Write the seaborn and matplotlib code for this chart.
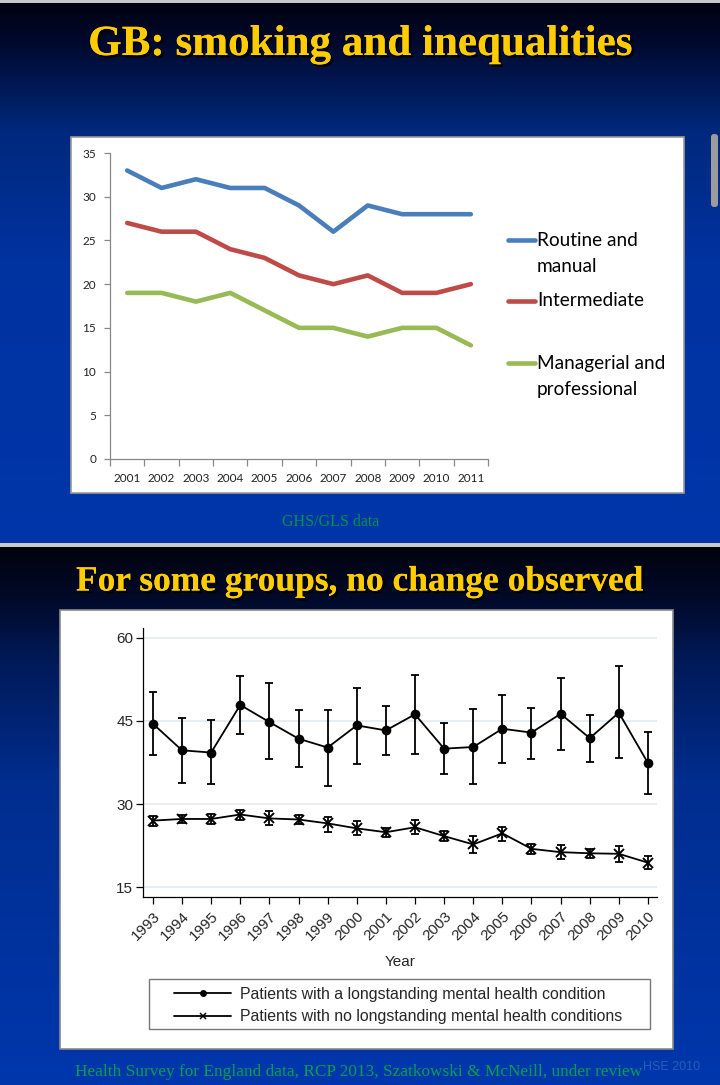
import numpy as np
import pandas as pd
import matplotlib
matplotlib.use("Agg")
import matplotlib.pyplot as plt
import seaborn as sns
from matplotlib.lines import Line2D
from matplotlib.patches import Rectangle, FancyBboxPatch
import matplotlib.patheffects as pe

# ---------------- data: top chart (GHS/GLS) ----------------
years_top = ["2001", "2002", "2003", "2004", "2005", "2006", "2007", "2008", "2009", "2010", "2011"]
routine = [33, 31, 32, 31, 31, 29, 26, 29, 28, 28, 28]
intermediate = [27, 26, 26, 24, 23, 21, 20, 21, 19, 19, 20]
managerial = [19, 19, 18, 19, 17, 15, 15, 14, 15, 15, 13]
groups_top = ["Routine and\nmanual", "Intermediate", "Managerial and\nprofessional"]
colors_top = ["#4A7EBB", "#BE4B48", "#98B954"]
yticks_top = [0, 5, 10, 15, 20, 25, 30, 35]

# ---------------- data: bottom chart (HSE) ----------------
years_bot = [1993, 1994, 1995, 1996, 1997, 1998, 1999, 2000, 2001, 2002,
             2003, 2004, 2005, 2006, 2007, 2008, 2009, 2010]
mh = [44.5, 39.7, 39.3, 47.9, 44.8, 41.8, 40.2, 44.2, 43.3, 46.2,
      40.0, 40.3, 43.6, 42.9, 46.3, 41.9, 46.5, 37.4]
mh_lo = [38.8, 33.8, 33.6, 42.6, 38.1, 36.6, 33.3, 37.3, 38.8, 39.1,
         35.4, 33.6, 37.5, 38.2, 39.8, 37.6, 38.4, 31.8]
mh_hi = [50.3, 45.6, 45.1, 53.2, 51.8, 47.0, 47.0, 51.0, 47.7, 53.3,
         44.6, 47.1, 49.7, 47.4, 52.8, 46.1, 54.9, 43.1]
nomh = [27.0, 27.3, 27.3, 28.1, 27.4, 27.2, 26.5, 25.6, 24.9, 25.8,
        24.2, 22.7, 24.7, 21.9, 21.3, 21.1, 21.0, 19.4]
nomh_lo = [26.0, 26.5, 26.4, 27.1, 26.2, 26.4, 25.0, 24.4, 24.1, 24.5,
           23.3, 21.2, 23.4, 21.0, 20.0, 20.2, 19.5, 18.2]
nomh_hi = [27.8, 28.1, 28.2, 29.0, 28.7, 28.1, 27.6, 27.0, 25.6, 27.1,
           25.2, 24.3, 25.9, 22.8, 22.6, 21.9, 22.5, 20.6]
label_mh = "Patients with a longstanding mental health condition"
label_nomh = "Patients with no longstanding mental health conditions"
yticks_bot = [15, 30, 45, 60]

sns.set_theme(style="ticks")
plt.rcParams["font.family"] = ["Liberation Sans", "DejaVu Sans"]

W, H = 720, 1085
fig = plt.figure(figsize=(W / 100, H / 100), dpi=100)

# ---------------- slide backgrounds ----------------
bg = fig.add_axes([0, 0, 1, 1], zorder=-10)
bg.axis("off")

stops = [(0, "#00020e"), (45, "#000a30"), (130, "#00287c"), (260, "#0032a0"), (544, "#0036aa"),
         (545, "#00020c"), (600, "#000a2a"), (660, "#001a58"), (780, "#002d8e"), (1085, "#0037ad")]
pos = np.array([s[0] for s in stops], float)
cols = np.array([matplotlib.colors.to_rgb(s[1]) for s in stops])
rows = np.arange(H)
grad = np.stack([np.interp(rows, pos, cols[:, c]) for c in range(3)], axis=-1)[:, None, :]
bg.imshow(grad, extent=(0, W, H, 0), aspect="auto", interpolation="bilinear")
bg.set_xlim(0, W)
bg.set_ylim(H, 0)

bg.add_patch(Rectangle((0, 0), W, 3, fc="#c9c9c9", ec="none"))
bg.add_patch(Rectangle((0, 543), W, 4, fc="#c9c9c9", ec="none"))
bg.add_patch(Rectangle((71, 137), 613, 356, fc="white", ec="#9a9a9a", lw=1.2))
bg.add_patch(Rectangle((60, 610), 613, 439, fc="white", ec="#8a8a8a", lw=1.2))
bg.add_patch(FancyBboxPatch((711, 134), 7, 73, boxstyle="round,pad=0,rounding_size=3",
                            fc="#9c9c9c", ec="none"))

shadow = [pe.withSimplePatchShadow(offset=(1.8, -1.8), shadow_rgbFace="black", alpha=0.85), pe.Normal()]
bg.text(360, 45, "GB: smoking and inequalities", ha="center", va="center", fontsize=31,
        fontweight="bold", color="#FFCC00", family=["Liberation Serif", "DejaVu Serif"],
        path_effects=shadow)
bg.text(360, 582, "For some groups, no change observed", ha="center", va="center", fontsize=25.5,
        fontweight="bold", color="#FFCC00", family=["Liberation Serif", "DejaVu Serif"],
        path_effects=shadow)

bg.text(331, 522, "GHS/GLS data", ha="center", va="center", fontsize=11.5,
        color="#00914a", family=["Liberation Serif", "DejaVu Serif"])
bg.text(359, 1072, "Health Survey for England data, RCP 2013, Szatkowski & McNeill, under review",
        ha="center", va="center", fontsize=12.4, color="#00a050",
        family=["Liberation Serif", "DejaVu Serif"])
bg.text(672, 1067, "HSE 2010", ha="center", va="center", fontsize=9, color="#2a5cb8")

# ---------------- top chart ----------------
df_top = pd.DataFrame({
    "year": years_top * 3,
    "pct": routine + intermediate + managerial,
    "group": [groups_top[0]] * 11 + [groups_top[1]] * 11 + [groups_top[2]] * 11,
})
ax1 = fig.add_axes([110 / W, 1 - 459 / H, 378 / W, 306 / H])
ax1.set_facecolor("none")
sns.lineplot(data=df_top, x="year", y="pct", hue="group", hue_order=groups_top,
             palette=colors_top, linewidth=3.3, ax=ax1, legend=False, sort=False,
             solid_capstyle="round", solid_joinstyle="round")
ax1.set_xlim(-0.5, len(years_top) - 0.5)
ax1.set_ylim(0, 35)
ax1.set_xlabel("")
ax1.set_ylabel("")
ax1.set_yticks(yticks_top)
ax1.set_yticklabels([str(v) for v in yticks_top], fontsize=8.5, color="#222222",
                    family=["Lato", "DejaVu Sans"])
ax1.set_xticks(range(len(years_top)))
ax1.set_xticklabels(years_top, fontsize=8.5, color="#222222", family=["Lato", "DejaVu Sans"])
ax1.set_xticks(np.arange(-0.5, len(years_top), 1.0), minor=True)
ax1.tick_params(axis="x", which="major", length=0, pad=10)
ax1.tick_params(axis="x", which="minor", length=5, width=0.9, color="#888888", direction="out")
ax1.tick_params(axis="y", length=4, width=0.9, color="#888888", pad=6)
for s in ["top", "right"]:
    ax1.spines[s].set_visible(False)
for s in ["left", "bottom"]:
    ax1.spines[s].set_color("#888888")
    ax1.spines[s].set_linewidth(0.9)

# legend (keys on first text line, as in the original)
leg_rows = [240, 301, 363]
for lab, col, yr in zip(groups_top, colors_top, leg_rows):
    bg.plot([508, 535], [yr, yr], color=col, lw=3.3, solid_capstyle="round")
    for k, line in enumerate(lab.split("\n")):
        bg.text(537, yr + 27 * k, line, ha="left", va="center", fontsize=13.7,
                color="black", family=["Lato", "DejaVu Sans"])

# ---------------- bottom chart ----------------
ax2 = fig.add_axes([143 / W, 1 - 897 / H, 514 / W, 269 / H])
ax2.set_facecolor("none")
for v in yticks_bot:
    ax2.axhline(v, color="#e3ebf1", lw=1.2, zorder=0)

df_mh = pd.DataFrame({"year": years_bot, "pct": mh})
df_no = pd.DataFrame({"year": years_bot, "pct": nomh})
sns.lineplot(data=df_mh, x="year", y="pct", color="black", linewidth=1.3, marker="o",
             markersize=7, markeredgewidth=0, ax=ax2)
sns.lineplot(data=df_no, x="year", y="pct", color="black", linewidth=1.3, marker="x",
             markersize=7, markeredgewidth=1.4, markeredgecolor="black", ax=ax2)
ax2.errorbar(years_bot, mh, yerr=[np.subtract(mh, mh_lo), np.subtract(mh_hi, mh)],
             fmt="none", ecolor="black", elinewidth=1.3, capsize=3, capthick=1.3)
ax2.errorbar(years_bot, nomh, yerr=[np.subtract(nomh, nomh_lo), np.subtract(nomh_hi, nomh)],
             fmt="none", ecolor="black", elinewidth=1.3, capsize=3, capthick=1.3)

ax2.set_xlim(1992.66, 2010.31)
ax2.set_ylim(13.2, 61.8)
ax2.set_yticks(yticks_bot)
ax2.set_yticklabels([str(v) for v in yticks_bot], fontsize=11)
ax2.set_xticks(years_bot)
ax2.set_xticklabels([str(y) for y in years_bot], fontsize=11, rotation=45,
                    ha="right", rotation_mode="anchor")
ax2.tick_params(axis="both", length=5, width=0.9, color="black", direction="out", pad=2)
ax2.tick_params(axis="x", pad=4)
ax2.set_xlabel("")
ax2.set_ylabel("")
for s in ["top", "right"]:
    ax2.spines[s].set_visible(False)
for s in ["left", "bottom"]:
    ax2.spines[s].set_color("black")
    ax2.spines[s].set_linewidth(0.9)

bg.text(400, 962, "Year", ha="center", va="center", fontsize=11)

# legend box
bg.add_patch(Rectangle((149, 979), 501, 50, fc="white", ec="#777777", lw=1.0))
handles = [Line2D([], [], color="black", lw=1.3, marker="o", markersize=5, markeredgewidth=0),
           Line2D([], [], color="black", lw=1.3, marker="x", markersize=5, markeredgewidth=1.1)]
fig.legend(handles, [label_mh, label_nomh], loc="upper left",
           bbox_to_anchor=(174 / W, 1 - 987 / H), frameon=False, fontsize=11.4,
           handlelength=3.6, handletextpad=0.55, labelspacing=0.45, borderpad=0, borderaxespad=0)

fig.savefig("out.png", dpi=100)
